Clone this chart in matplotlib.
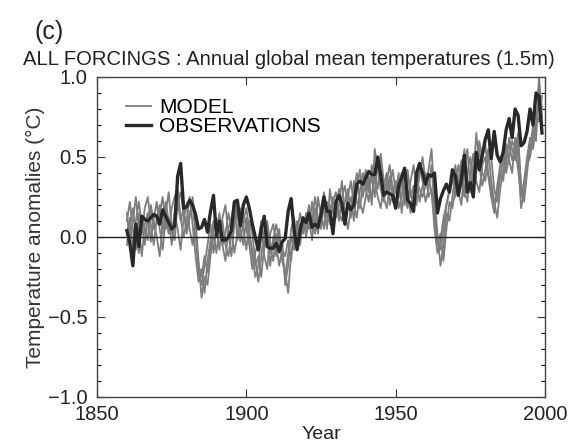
import numpy as np
import matplotlib.pyplot as plt
from matplotlib.ticker import MultipleLocator

plt.rcParams["font.family"] = ["Liberation Sans", "DejaVu Sans"]

years = list(range(1860, 2000))

observations = [
    0.04, -0.04, -0.18, 0.08, -0.06, 0.13, 0.11, 0.10, 0.12, 0.14,
    0.13, 0.08, 0.17, 0.13, 0.09, 0.05, 0.07, 0.38, 0.46, 0.18,
    0.19, 0.23, 0.20, 0.14, 0.05, 0.06, 0.11, 0.03, 0.16, 0.26,
    0.01, 0.10, -0.02, -0.02, 0.00, 0.04, 0.22, 0.23, 0.07, 0.20,
    0.25, 0.18, 0.08, 0.00, -0.08, 0.05, 0.13, -0.06, -0.07, -0.07,
    -0.04, -0.09, -0.03, -0.01, 0.16, 0.24, 0.04, -0.08, 0.04, 0.12,
    0.09, 0.15, 0.06, 0.08, 0.06, 0.14, 0.25, 0.16, 0.16, 0.02,
    0.22, 0.26, 0.21, 0.08, 0.21, 0.17, 0.20, 0.33, 0.35, 0.33,
    0.37, 0.41, 0.39, 0.39, 0.50, 0.39, 0.26, 0.28, 0.27, 0.26,
    0.18, 0.32, 0.37, 0.43, 0.23, 0.21, 0.16, 0.40, 0.46, 0.40,
    0.33, 0.39, 0.38, 0.40, 0.15, 0.24, 0.29, 0.33, 0.28, 0.42,
    0.38, 0.26, 0.36, 0.51, 0.28, 0.34, 0.25, 0.53, 0.42, 0.51,
    0.61, 0.67, 0.49, 0.66, 0.51, 0.47, 0.53, 0.67, 0.74, 0.62,
    0.80, 0.76, 0.57, 0.59, 0.66, 0.80, 0.70, 0.90, 0.88, 0.65,
]

# four model ensemble members, 1860-1999
model_1 = [
    0.10, 0.22, 0.05, -0.08, 0.15, 0.02, 0.18, 0.25, 0.08, -0.05,
    0.12, 0.20, 0.02, 0.15, 0.28, 0.05, -0.02, 0.22, 0.10, 0.18,
    0.05, 0.15, 0.20, 0.02, -0.22, -0.30, -0.18, -0.05, 0.08, -0.10,
    0.05, -0.08, 0.12, 0.20, 0.02, -0.12, 0.08, 0.15, -0.03, 0.10,
    0.18, 0.05, -0.12, -0.25, -0.18, 0.02, -0.08, 0.10, -0.05, -0.15,
    0.02, -0.10, -0.02, -0.30, -0.18, 0.05, 0.12, -0.05, 0.08, 0.02,
    0.15, 0.05, 0.22, 0.10, 0.02, 0.18, 0.28, 0.12, 0.20, 0.05,
    0.15, 0.30, 0.18, 0.08, 0.25, 0.35, 0.20, 0.12, 0.28, 0.40,
    0.30, 0.22, 0.45, 0.35, 0.25, 0.18, 0.32, 0.40, 0.20, 0.28,
    0.35, 0.18, 0.25, 0.42, 0.30, 0.15, 0.28, 0.38, 0.22, 0.32,
    0.40, 0.25, 0.30, 0.05, -0.10, -0.02, 0.12, 0.20, 0.30, 0.38,
    0.25, 0.35, 0.48, 0.30, 0.22, 0.40, 0.52, 0.35, 0.28, 0.45,
    0.50, 0.38, 0.25, 0.15, 0.32, 0.45, 0.55, 0.40, 0.50, 0.60,
    0.55, 0.42, 0.25, 0.35, 0.50, 0.62, 0.55, 0.70, 0.85, 0.72,
]
model_2 = [
    -0.05, 0.08, 0.18, 0.02, -0.10, 0.12, 0.05, -0.02, 0.20, 0.10,
    0.00, -0.12, 0.08, 0.22, 0.10, 0.02, 0.15, 0.05, -0.08, 0.12,
    0.20, 0.05, -0.05, 0.10, -0.15, -0.38, -0.25, -0.30, -0.12, 0.02,
    -0.10, 0.08, -0.05, 0.02, 0.15, 0.05, -0.10, 0.02, 0.18, 0.05,
    -0.08, 0.10, 0.02, -0.15, -0.28, -0.12, 0.05, -0.02, -0.18, 0.00,
    -0.12, 0.05, -0.15, -0.22, -0.35, -0.10, -0.02, 0.10, -0.05, 0.12,
    0.00, 0.12, -0.02, 0.18, 0.08, 0.15, 0.05, 0.22, 0.10, 0.25,
    0.12, 0.20, 0.35, 0.15, 0.05, 0.18, 0.28, 0.40, 0.22, 0.15,
    0.25, 0.38, 0.20, 0.55, 0.42, 0.30, 0.22, 0.35, 0.45, 0.30,
    0.20, 0.32, 0.40, 0.25, 0.18, 0.35, 0.45, 0.28, 0.38, 0.50,
    0.35, 0.42, 0.55, 0.25, 0.02, -0.18, -0.05, 0.15, 0.10, 0.25,
    0.40, 0.28, 0.20, 0.42, 0.55, 0.30, 0.38, 0.65, 0.45, 0.32,
    0.42, 0.55, 0.35, 0.22, 0.12, 0.30, 0.42, 0.58, 0.48, 0.40,
    0.62, 0.50, 0.18, 0.28, 0.45, 0.55, 0.70, 0.60, 0.95, 0.80,
]
model_3 = [
    0.15, -0.02, 0.10, 0.25, 0.05, -0.12, 0.08, 0.15, -0.03, 0.12,
    0.22, 0.05, -0.08, 0.12, 0.02, 0.18, 0.25, 0.30, 0.12, 0.00,
    0.10, 0.25, 0.08, -0.12, -0.28, -0.20, -0.35, -0.15, -0.02, 0.10,
    0.02, 0.15, -0.05, -0.15, 0.05, 0.12, 0.22, -0.02, 0.08, 0.15,
    0.05, -0.05, -0.20, -0.10, -0.02, 0.10, -0.12, -0.20, 0.02, 0.08,
    -0.05, -0.18, -0.08, -0.12, -0.02, -0.15, 0.08, 0.02, 0.15, 0.05,
    0.10, 0.20, 0.08, 0.02, 0.25, 0.12, 0.18, 0.05, 0.30, 0.15,
    0.22, 0.10, 0.25, 0.32, 0.18, 0.25, 0.10, 0.30, 0.42, 0.25,
    0.35, 0.28, 0.38, 0.25, 0.50, 0.40, 0.25, 0.18, 0.32, 0.42,
    0.28, 0.40, 0.15, 0.30, 0.42, 0.25, 0.32, 0.20, 0.45, 0.35,
    0.22, 0.30, 0.45, 0.18, -0.05, 0.02, -0.15, 0.05, 0.22, 0.18,
    0.30, 0.45, 0.35, 0.25, 0.40, 0.50, 0.32, 0.42, 0.55, 0.40,
    0.35, 0.48, 0.50, 0.30, 0.22, 0.38, 0.50, 0.45, 0.62, 0.55,
    0.48, 0.60, 0.32, 0.22, 0.40, 0.58, 0.65, 0.78, 0.72, 0.88,
]
model_4 = [
    0.02, 0.12, -0.08, 0.10, 0.22, 0.08, -0.05, 0.12, 0.18, 0.05,
    0.08, 0.15, 0.25, 0.05, 0.12, -0.05, 0.08, 0.20, 0.28, 0.15,
    0.02, 0.12, 0.25, 0.05, -0.18, -0.25, -0.12, -0.22, -0.08, 0.05,
    0.12, 0.00, 0.10, -0.05, -0.12, 0.02, 0.10, 0.20, 0.05, -0.05,
    0.12, 0.00, -0.08, -0.18, -0.12, -0.25, -0.05, 0.05, -0.10, -0.02,
    0.08, -0.02, -0.12, -0.25, -0.10, 0.00, -0.08, 0.05, 0.00, 0.10,
    0.05, 0.15, 0.10, 0.25, 0.12, 0.05, 0.20, 0.15, 0.08, 0.22,
    0.28, 0.15, 0.10, 0.22, 0.30, 0.12, 0.35, 0.22, 0.18, 0.32,
    0.42, 0.30, 0.25, 0.38, 0.30, 0.52, 0.35, 0.28, 0.38, 0.22,
    0.30, 0.25, 0.35, 0.20, 0.38, 0.28, 0.18, 0.35, 0.30, 0.25,
    0.32, 0.38, 0.28, 0.10, -0.02, -0.08, 0.05, 0.20, 0.28, 0.35,
    0.45, 0.30, 0.40, 0.55, 0.35, 0.28, 0.45, 0.40, 0.60, 0.50,
    0.58, 0.40, 0.30, 0.20, 0.28, 0.40, 0.35, 0.52, 0.58, 0.48,
    0.55, 0.65, 0.30, 0.28, 0.45, 0.50, 0.62, 0.68, 1.00, 0.75,
]
model_runs = [model_1, model_2, model_3, model_4]

fig = plt.figure(figsize=(5.69, 4.44), dpi=100)
ax = fig.add_axes([0.1705, 0.1059, 0.7873, 0.7207])

for i, run in enumerate(model_runs):
    ax.plot(years, run, color="#7d7d7d", lw=1.3,
            label="MODEL" if i == 0 else None, zorder=2)
ax.plot(years, observations, color="#282828", lw=2.4,
        label="OBSERVATIONS", zorder=3)
ax.axhline(0, color="#222222", lw=1.0, zorder=4)

ax.set_xlim(1850, 2000)
ax.set_ylim(-1.0, 1.0)
ax.set_xticks([1850, 1900, 1950, 2000])
ax.yaxis.set_major_locator(MultipleLocator(0.5))
ax.yaxis.set_minor_locator(MultipleLocator(0.1))
ax.yaxis.set_major_formatter(plt.FuncFormatter(lambda v, p: f"{v:.1f}".replace("-", "\u2212")))
ax.tick_params(direction="in", top=True, right=True, labelsize=14.5,
               length=6, width=0.8, colors="#333333", labelcolor="#222222")
ax.tick_params(axis="x", pad=6)
ax.tick_params(axis="y", pad=7)
ax.tick_params(which="minor", direction="in", right=True, length=3, width=0.8)
for s in ax.spines.values():
    s.set_color("#444444")
    s.set_linewidth(1.0)

ax.set_xlabel("Year", fontsize=14, color="#222222", labelpad=1)
ax.set_ylabel("Temperature anomalies (°C)", fontsize=15, color="#333333", labelpad=2)

leg = ax.legend(loc="upper left", frameon=False, fontsize=15, handlelength=1.2,
                handletextpad=0.4, labelspacing=0.0, borderaxespad=0.0,
                bbox_to_anchor=(0.045, 0.96))

fig.text(0.507, 0.865, "ALL FORCINGS : Annual global mean temperatures (1.5m)",
         ha="center", va="center", fontsize=14.6, color="#222222")
fig.text(0.060, 0.928, "(c)", ha="left", va="center", fontsize=18, color="#222222")

fig.savefig("out.png", dpi=100)
